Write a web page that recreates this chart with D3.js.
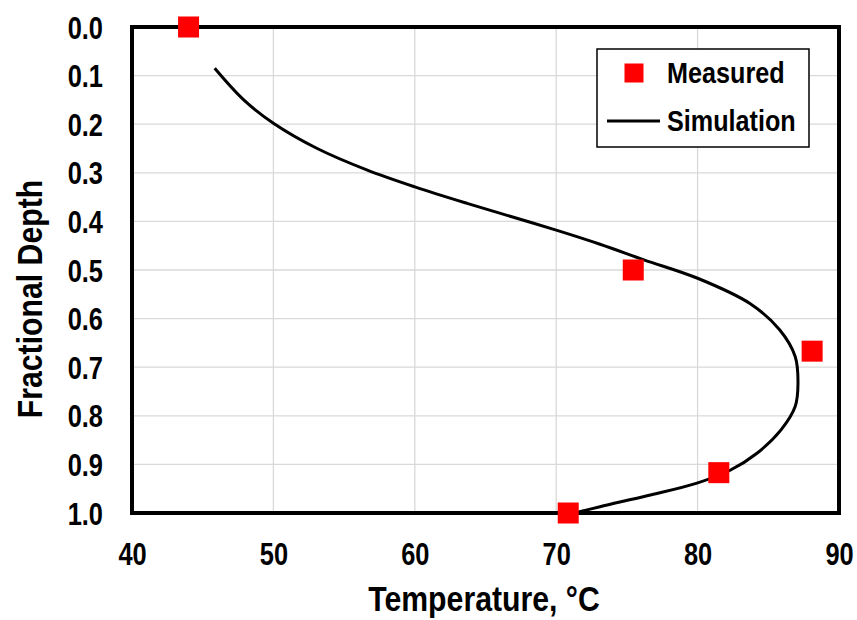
<!DOCTYPE html>
<html>
<head>
<meta charset="utf-8">
<script src="https://cdn.jsdelivr.net/npm/d3@7"></script>
<style>
  html, body { margin: 0; padding: 0; background: #fff; }
  svg { display: block; }
  text { font-family: "Liberation Sans Narrow", "Arial Narrow", "Liberation Sans", Arial, sans-serif; font-weight: bold; fill: #000; }
</style>
</head>
<body>
<svg id="chart" width="857" height="620"></svg>
<script>
// Data
const measuredTemp  = [44.0, 75.45, 88.1, 81.5, 70.85];
const measuredDepth = [0.0, 0.5, 0.667, 0.917, 1.0];

const simTemp  = [45.85, 47.9, 50.0, 53.1, 56.6, 60.0, 63.7, 66.0, 70.0, 73.1, 76.2, 80.0, 83.7, 85.8, 86.9, 87.1, 86.9, 85.9, 84.2, 82.3, 79.9, 76.5, 73.1, 71.3];
const simDepth = [0.085, 0.150, 0.198, 0.250, 0.294, 0.329, 0.363, 0.383, 0.418, 0.447, 0.479, 0.517, 0.569, 0.623, 0.678, 0.733, 0.781, 0.829, 0.877, 0.912, 0.939, 0.964, 0.987, 1.0];

const xTicks = [40, 50, 60, 70, 80, 90];
const yTicks = [0.0, 0.1, 0.2, 0.3, 0.4, 0.5, 0.6, 0.7, 0.8, 0.9, 1.0];
const xTitle = "Temperature, °C";
const yTitle = "Fractional Depth";
const legendLabels = ["Measured", "Simulation"];

const NARROW = 0.82; // emulate a condensed bold face
const svg = d3.select("#chart");
const L = 132, R = 839, T = 27, B = 513;
const x = d3.scaleLinear().domain([40, 90]).range([L, R]);
const y = d3.scaleLinear().domain([0, 1]).range([T, B]);

// Gridlines
const grid = svg.append("g");
grid.selectAll("line.v").data(xTicks.slice(1, -1)).enter().append("line")
  .attr("x1", d => x(d)).attr("x2", d => x(d)).attr("y1", T).attr("y2", B)
  .attr("stroke", "#d9d9d9").attr("stroke-width", 1.3);
grid.selectAll("line.h").data(yTicks.slice(1, -1)).enter().append("line")
  .attr("y1", d => y(d)).attr("y2", d => y(d)).attr("x1", L).attr("x2", R)
  .attr("stroke", "#d9d9d9").attr("stroke-width", 1.3);

// Axes (labels only)
const xAxis = d3.axisBottom(x).tickValues(xTicks).tickFormat(d3.format("d")).tickSize(0).tickPadding(0);
const gx = svg.append("g").attr("transform", `translate(0,${B})`).call(xAxis);
gx.select(".domain").remove();
gx.selectAll("text").attr("dy", null).attr("x", 0).attr("y", 52)
  .attr("transform", `scale(${NARROW},1)`).style("font-size", "31px").attr("fill", "#000");

const yAxis = d3.axisLeft(y).tickValues(yTicks).tickFormat(d3.format(".1f")).tickSize(0).tickPadding(0);
const gy = svg.append("g").attr("transform", `translate(${L},0)`).call(yAxis);
gy.select(".domain").remove();
gy.selectAll("text").attr("dy", null).attr("x", -29 / NARROW).attr("y", 11)
  .attr("transform", `scale(${NARROW},1)`).style("font-size", "31px").attr("fill", "#000");

// Simulation curve
const line = d3.line().x((d, i) => x(simTemp[i])).y((d, i) => y(simDepth[i])).curve(d3.curveCatmullRom.alpha(0.5));
svg.append("path").datum(simTemp).attr("d", line)
  .attr("fill", "none").attr("stroke", "#000").attr("stroke-width", 3);

// Plot border
svg.append("rect").attr("x", L).attr("y", T).attr("width", R - L).attr("height", B - T)
  .attr("fill", "none").attr("stroke", "#000").attr("stroke-width", 4);

// Measured markers
const ms = 21;
svg.selectAll("rect.m").data(measuredTemp).enter().append("rect")
  .attr("x", (d) => x(d) - ms / 2).attr("y", (d, i) => y(measuredDepth[i]) - ms / 2)
  .attr("width", ms).attr("height", ms).attr("fill", "#ff0000");

// Axis titles
svg.append("text").attr("transform", "translate(484,611) scale(0.84,1)").attr("text-anchor", "middle")
  .style("font-size", "36px").text(xTitle);
svg.append("text").attr("transform", "translate(42,299) rotate(-90) scale(0.84,1)").attr("text-anchor", "middle")
  .style("font-size", "36px").text(yTitle);

// Legend
const lg = svg.append("g");
lg.append("rect").attr("x", 597).attr("y", 49).attr("width", 212).attr("height", 98)
  .attr("fill", "#fff").attr("stroke", "#000").attr("stroke-width", 1.5);
lg.append("rect").attr("x", 634 - 9.5).attr("y", 73 - 9.5).attr("width", 19).attr("height", 19).attr("fill", "#ff0000");
lg.append("line").attr("x1", 607).attr("x2", 660).attr("y1", 121).attr("y2", 121).attr("stroke", "#000").attr("stroke-width", 3);
lg.append("text").attr("transform", "translate(667,83) scale(0.84,1)").style("font-size", "30px").text(legendLabels[0]);
lg.append("text").attr("transform", "translate(667,131) scale(0.84,1)").style("font-size", "30px").text(legendLabels[1]);
</script>
</body>
</html>
